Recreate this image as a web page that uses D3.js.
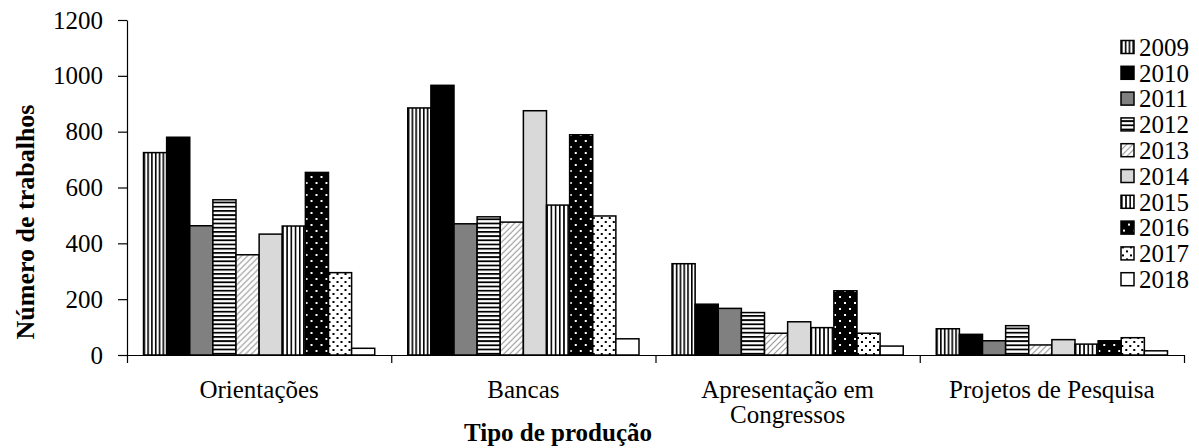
<!DOCTYPE html>
<html>
<head>
<meta charset="utf-8">
<script src="https://cdn.jsdelivr.net/npm/d3@7"></script>
<style>
  html, body { margin: 0; padding: 0; background: #fff; }
  svg { display: block; }
  svg text { font-family: "Liberation Serif", "Times New Roman", serif; }
</style>
</head>
<body>
<svg id="chart" width="1199" height="448"></svg>
<script>
// ---- data ----
const categories = ["Orientações", "Bancas", "Apresentação em Congressos", "Projetos de Pesquisa"];
const years = ["2009", "2010", "2011", "2012", "2013", "2014", "2015", "2016", "2017", "2018"];
const v2009 = [725, 885, 327, 94];
const v2010 = [780, 966, 182, 74];
const v2011 = [463, 470, 167, 51];
const v2012 = [556, 495, 152, 105];
const v2013 = [359, 476, 78, 36];
const v2014 = [433, 875, 119, 55];
const v2015 = [462, 537, 98, 39];
const v2016 = [654, 789, 230, 51];
const v2017 = [295, 498, 78, 62];
const v2018 = [24, 58, 32, 15];
const seriesValues = [v2009, v2010, v2011, v2012, v2013, v2014, v2015, v2016, v2017, v2018];
const yTicks = [0, 200, 400, 600, 800, 1000, 1200];
const yTitle = "Número de trabalhos";
const xTitle = "Tipo de produção";

// ---- styles (fills per series) ----
const fills = ["url(#p-vlines)", "#000000", "#808080", "url(#p-hlines)", "url(#p-diag)",
               "#d9d9d9", "url(#p-vlines2)", "url(#p-darkdots)", "url(#p-dots)", "#ffffff"];

const FONT = "Liberation Serif, Times New Roman, serif";
const svg = d3.select("#chart").attr("font-family", FONT);
const W = 1199, H = 448;
const m = { left: 127, right: 15, top: 20, bottom: 93 };
const fontSize = 25;

// ---- patterns ----
const defs = svg.append("defs");
function vlines(id, w) {
  const p = defs.append("pattern").attr("id", id).attr("patternUnits", "userSpaceOnUse")
    .attr("width", w).attr("height", 4);
  p.append("rect").attr("width", w).attr("height", 4).attr("fill", "#fff");
  p.append("rect").attr("x", 0).attr("width", 1.6).attr("height", 4).attr("fill", "#000");
}
vlines("p-vlines", 3.8);
vlines("p-vlines2", 4.2);
{
  const p = defs.append("pattern").attr("id", "p-hlines").attr("patternUnits", "userSpaceOnUse")
    .attr("width", 4).attr("height", 4.2);
  p.append("rect").attr("width", 4).attr("height", 4.2).attr("fill", "#fff");
  p.append("rect").attr("y", 0).attr("width", 4).attr("height", 1.8).attr("fill", "#000");
}
{
  const p = defs.append("pattern").attr("id", "p-diag").attr("patternUnits", "userSpaceOnUse")
    .attr("width", 6).attr("height", 6);
  p.append("rect").attr("width", 6).attr("height", 6).attr("fill", "#fff");
  p.append("path").attr("d", "M-1,7 L7,-1 M-1,1 L1,-1 M5,7 L7,5")
    .attr("stroke", "#9a9a9a").attr("stroke-width", 1.2);
}
{
  const p = defs.append("pattern").attr("id", "p-darkdots").attr("patternUnits", "userSpaceOnUse")
    .attr("width", 10).attr("height", 12);
  p.append("rect").attr("width", 10).attr("height", 12).attr("fill", "#000");
  p.append("rect").attr("x", 2).attr("y", 2).attr("width", 2).attr("height", 2).attr("fill", "#fff");
  p.append("rect").attr("x", 7).attr("y", 8).attr("width", 2).attr("height", 2).attr("fill", "#fff");
}
{
  const p = defs.append("pattern").attr("id", "p-dots").attr("patternUnits", "userSpaceOnUse")
    .attr("width", 8).attr("height", 8);
  p.append("rect").attr("width", 8).attr("height", 8).attr("fill", "#fff");
  p.append("rect").attr("x", 1).attr("y", 1).attr("width", 2).attr("height", 2).attr("fill", "#000");
  p.append("rect").attr("x", 5).attr("y", 5).attr("width", 2).attr("height", 2).attr("fill", "#000");
}

// ---- scales ----
const x0 = d3.scaleBand().domain(categories).range([m.left, W - m.right])
  .paddingInner(0.125).paddingOuter(0.0625);
const x1 = d3.scaleBand().domain(years).range([0, x0.bandwidth()]);
const y = d3.scaleLinear().domain([0, 1200]).range([H - m.bottom, m.top]);
const color = d3.scaleOrdinal().domain(years).range(fills);

// ---- bars ----
const rows = categories.map((c, ci) => ({ cat: c, vals: years.map((yr, si) => ({ yr, v: seriesValues[si][ci] })) }));
const g = svg.append("g");
g.selectAll("g.grp").data(rows).join("g").attr("class", "grp")
  .attr("transform", d => `translate(${x0(d.cat)},0)`)
  .selectAll("rect").data(d => d.vals).join("rect")
  .attr("x", d => x1(d.yr))
  .attr("y", d => y(d.v))
  .attr("width", x1.bandwidth())
  .attr("height", d => y(0) - y(d.v))
  .attr("fill", d => color(d.yr))
  .attr("stroke", "#000").attr("stroke-width", 1.5);

// ---- y axis ----
const yAxis = svg.append("g").attr("transform", `translate(${m.left},0)`)
  .call(d3.axisLeft(y).tickValues(yTicks).tickFormat(d3.format("d"))
    .tickSize(9).tickSizeOuter(0).tickPadding(15));
yAxis.attr("font-family", FONT).attr("font-size", fontSize);
yAxis.selectAll("text").attr("font-size", fontSize).attr("fill", "#000").attr("font-family", FONT);
yAxis.selectAll("line, path").attr("stroke", "#000").attr("stroke-width", 1.2);

// ---- x axis (boundary ticks) ----
const xb = d3.scaleLinear().domain([0, categories.length]).range([m.left, W - m.right]);
const xAxis = svg.append("g").attr("transform", `translate(0,${y(0)})`)
  .call(d3.axisBottom(xb).ticks(categories.length).tickSize(8).tickSizeOuter(0).tickFormat(""));
xAxis.selectAll("line, path").attr("stroke", "#000").attr("stroke-width", 1.2);

// ---- category labels (wrapped) ----
const wrapMap = { "Apresentação em Congressos": ["Apresentação em", "Congressos"] };
const labels = svg.append("g").selectAll("text").data(categories).join("text")
  .attr("x", d => x0(d) + x0.bandwidth() / 2)
  .attr("y", 398)
  .attr("text-anchor", "middle")
  .attr("font-family", FONT)
  .attr("font-size", fontSize).attr("fill", "#000");
labels.each(function (d) {
  const lines = wrapMap[d] || [d];
  const t = d3.select(this);
  lines.forEach((ln, i) => {
    t.append("tspan").attr("x", x0(d) + x0.bandwidth() / 2).attr("dy", i === 0 ? 0 : 25).text(ln);
  });
});

// ---- axis titles ----
svg.append("text").attr("x", 558).attr("y", 441).attr("text-anchor", "middle")
  .attr("font-family", FONT)
  .attr("font-size", fontSize).attr("font-weight", "bold").attr("fill", "#000").text(xTitle);
svg.append("text").attr("transform", `translate(25,222) rotate(-90)`).attr("text-anchor", "middle")
  .attr("font-family", FONT)
  .attr("dy", "0.35em").attr("font-size", 26).attr("font-weight", "bold").attr("fill", "#000").text(yTitle);

// ---- legend ----
const leg = svg.append("g").selectAll("g").data(years).join("g")
  .attr("transform", (d, i) => `translate(1121,${47 + i * 25.8})`);
leg.append("rect").attr("x", 0).attr("y", -6.5).attr("width", 13).attr("height", 13)
  .attr("fill", d => color(d)).attr("stroke", "#000").attr("stroke-width", 1.5);
leg.append("text").attr("x", 18).attr("dy", "0.35em").attr("font-family", FONT).attr("font-size", fontSize)
  .attr("fill", "#000").text(d => d);
</script>
</body>
</html>
